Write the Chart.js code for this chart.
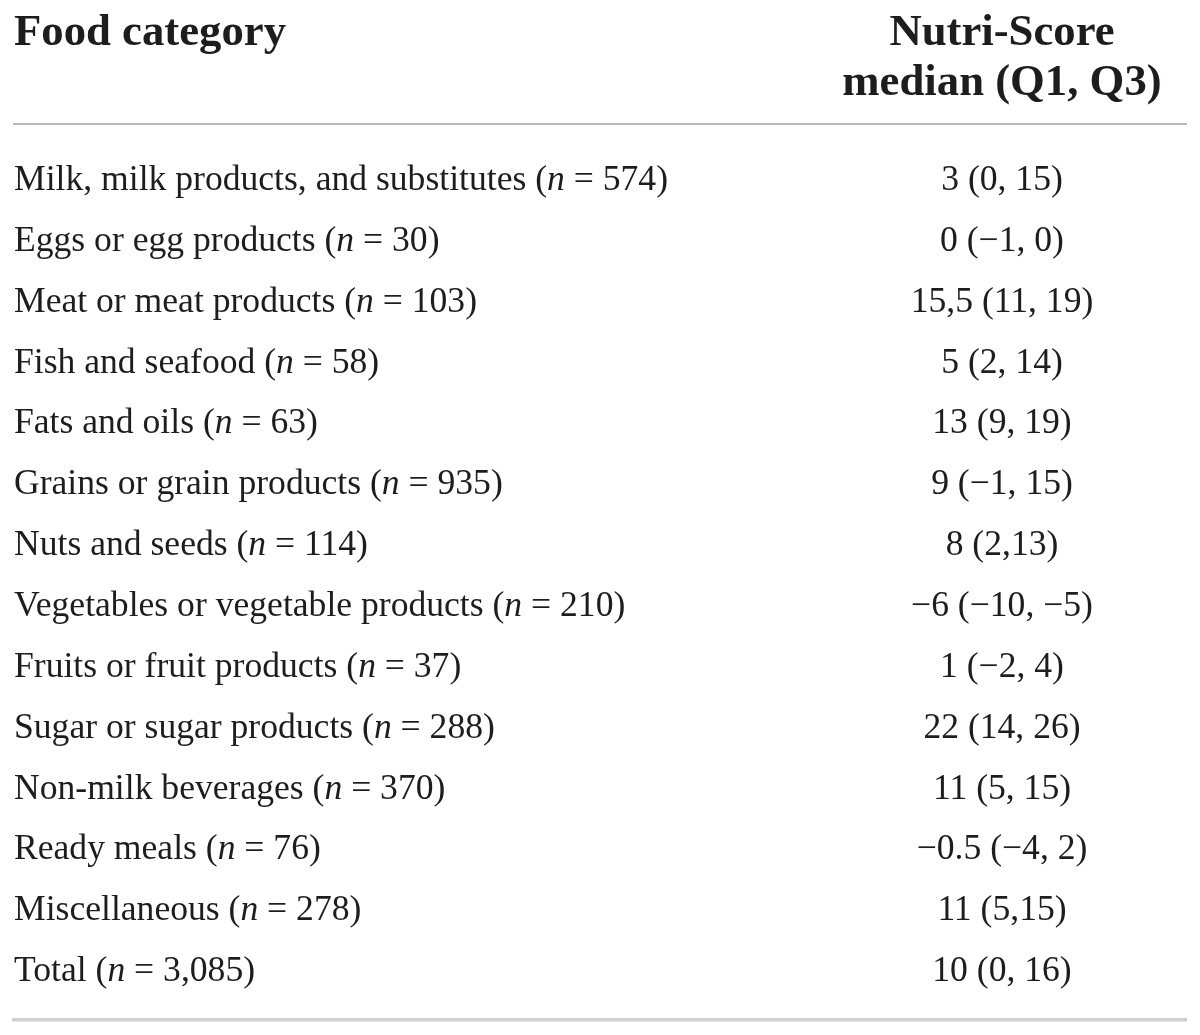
<!DOCTYPE html>
<html>
<head>
<meta charset="utf-8">
<script src="https://cdn.jsdelivr.net/npm/chart.js@4.4.1/dist/chart.umd.min.js"></script>
<style>
  html, body { margin: 0; padding: 0; background: #ffffff; }
  #wrap { width: 1200px; height: 1035px; position: relative; }
</style>
</head>
<body>
<div id="wrap"><canvas id="c" width="1200" height="1035"></canvas></div>
<script>
// ---- Data ----
const columnHeaders = [["Food category"], ["Nutri-Score", "median (Q1, Q3)"]];
const categories = [
  "Milk, milk products, and substitutes",
  "Eggs or egg products",
  "Meat or meat products",
  "Fish and seafood",
  "Fats and oils",
  "Grains or grain products",
  "Nuts and seeds",
  "Vegetables or vegetable products",
  "Fruits or fruit products",
  "Sugar or sugar products",
  "Non-milk beverages",
  "Ready meals",
  "Miscellaneous",
  "Total"
];
const sampleSizes = ["574", "30", "103", "58", "63", "935", "114", "210", "37", "288", "370", "76", "278", "3,085"];
const medians = ["3", "0", "15,5", "5", "13", "9", "8", "\u22126", "1", "22", "11", "\u22120.5", "11", "10"];
const quartiles = [
  "(0, 15)", "(\u22121, 0)", "(11, 19)", "(2, 14)", "(9, 19)", "(\u22121, 15)", "(2,13)",
  "(\u221210, \u22125)", "(\u22122, 4)", "(14, 26)", "(5, 15)", "(\u22124, 2)", "(5,15)", "(0, 16)"
];

// ---- Style ----
const INK = "#1e1c1c";
const SERIF = "'Liberation Serif', 'DejaVu Serif', serif";
const BODY_PX = 35;
const HEAD_PX = 44;
const colAnchor = [0, 0.843];

function runWidth(ctx, runs) {
  let w = 0;
  for (const r of runs) { ctx.font = r.font; w += ctx.measureText(r.t).width; }
  return w;
}
function drawRuns(ctx, runs, x, y, align, sx) {
  const w = runWidth(ctx, runs) * sx;
  let start = align === "center" ? x - w / 2 : x;
  ctx.save();
  ctx.translate(start, y);
  ctx.scale(sx, 1);
  let cx = 0;
  for (const r of runs) {
    ctx.font = r.font;
    ctx.fillText(r.t, cx, 0);
    cx += ctx.measureText(r.t).width;
  }
  ctx.restore();
}

const tablePlugin = {
  id: "tablePlugin",
  afterDraw(chart) {
    const ctx = chart.ctx;
    const ys = chart.scales.y;
    const xs = chart.scales.x;
    const area = chart.chartArea;
    const body = BODY_PX + "px " + SERIF;
    const bodyIt = "italic " + BODY_PX + "px " + SERIF;
    const head = "bold " + HEAD_PX + "px " + SERIF;
    ctx.save();
    ctx.fillStyle = INK;
    ctx.textBaseline = "alphabetic";
    ctx.textAlign = "left";

    const leftX = xs.getPixelForValue(colAnchor[0]);
    const rightX = xs.getPixelForValue(colAnchor[1]);

    // width calibration to match the narrower original typeface
    const ref0 = [{t: categories[0] + " (", font: body}, {t: "n", font: bodyIt}, {t: " = " + sampleSizes[0] + ")", font: body}];
    const sxBody = 654 / runWidth(ctx, ref0);
    const sxHead = 272 / runWidth(ctx, [{t: columnHeaders[0][0], font: head}]);

    // header
    const pitch = Math.abs(ys.getPixelForValue(1) - ys.getPixelForValue(0));
    const headBase1 = area.top - 114.6;
    const headLine = 50;
    drawRuns(ctx, [{t: columnHeaders[0][0], font: head}], leftX, headBase1, "left", sxHead);
    columnHeaders[1].forEach((line, k) => {
      drawRuns(ctx, [{t: line, font: head}], rightX, headBase1 + k * headLine, "center", sxHead);
    });

    // rows
    categories.forEach((cat, i) => {
      const y = ys.getPixelForValue(i);
      drawRuns(ctx, [
        {t: cat + " (", font: body},
        {t: "n", font: bodyIt},
        {t: " = " + sampleSizes[i] + ")", font: body}
      ], leftX, y, "left", sxBody);
      drawRuns(ctx, [{t: medians[i] + " " + quartiles[i], font: body}], rightX, y, "center", sxBody);
    });

    // rules
    ctx.strokeStyle = "#a3a3a3";
    ctx.lineWidth = 1.6;
    ctx.beginPath();
    ctx.moveTo(area.left - 1, area.top - 35.6);
    ctx.lineTo(area.right + 1, area.top - 35.6);
    ctx.stroke();
    ctx.strokeStyle = "#cfcfcf";
    ctx.lineWidth = 3.5;
    ctx.beginPath();
    ctx.moveTo(area.left - 2, area.bottom + 8.2);
    ctx.lineTo(area.right + 1, area.bottom + 8.2);
    ctx.stroke();
    ctx.restore();
  }
};

new Chart(document.getElementById("c"), {
  type: "bar",
  data: { labels: categories, datasets: [] },
  options: {
    responsive: false,
    animation: false,
    indexAxis: "y",
    layout: { padding: { top: 159.6, bottom: 23.4, left: 14, right: 14 } },
    plugins: { legend: { display: false }, tooltip: { enabled: false }, title: { display: false } },
    scales: {
      y: { type: "category", offset: true, display: false, grid: { display: false } },
      x: { type: "linear", min: 0, max: 1, display: false, grid: { display: false } }
    }
  },
  plugins: [tablePlugin]
});
</script>
</body>
</html>
